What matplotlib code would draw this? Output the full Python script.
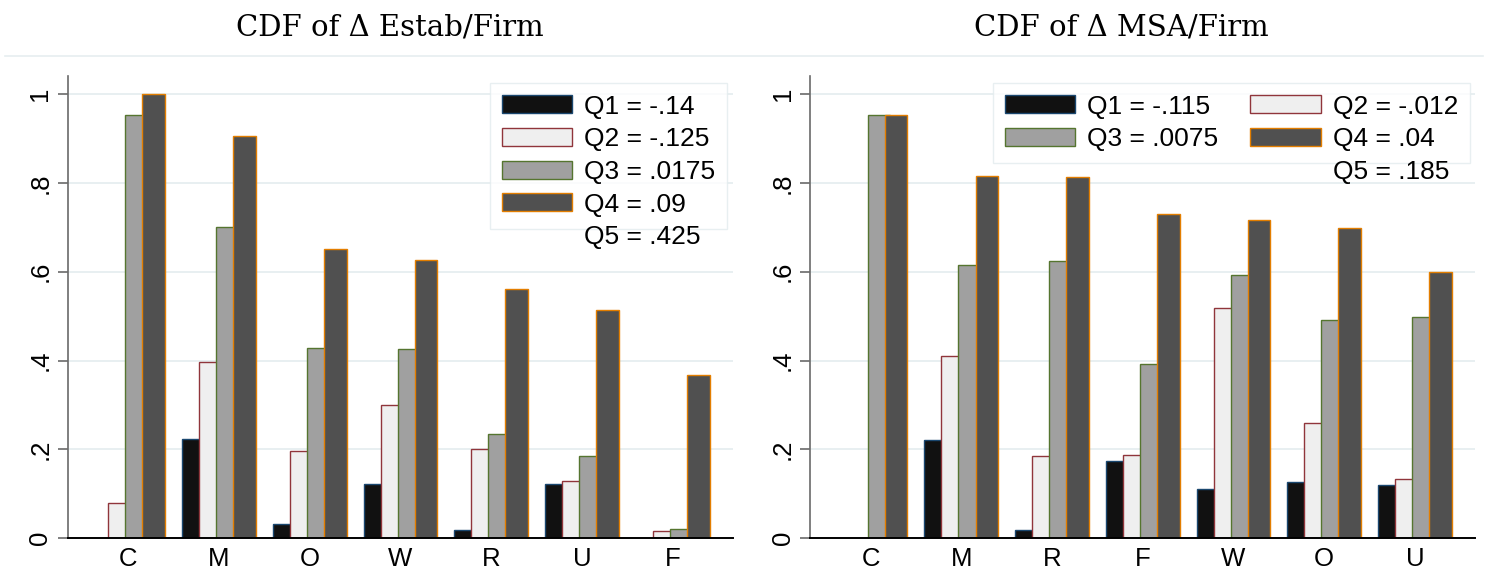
import matplotlib
matplotlib.use("Agg")
import matplotlib.pyplot as plt
from matplotlib.patches import Patch
from matplotlib.lines import Line2D
import numpy as np

# ---- data -------------------------------------------------------------
estab_categories = ["C", "M", "O", "W", "R", "U", "F"]
estab_q1 = [0.000, 0.224, 0.032, 0.122, 0.019, 0.122, 0.000]
estab_q2 = [0.080, 0.396, 0.197, 0.301, 0.202, 0.128, 0.016]
estab_q3 = [0.953, 0.701, 0.428, 0.426, 0.235, 0.185, 0.021]
estab_q4 = [1.000, 0.906, 0.650, 0.627, 0.562, 0.514, 0.368]
estab_cutoffs = ["-.14", "-.125", ".0175", ".09", ".425"]

msa_categories = ["C", "M", "R", "F", "W", "O", "U"]
msa_q1 = [0.000, 0.221, 0.019, 0.175, 0.112, 0.127, 0.119]
msa_q2 = [0.000, 0.410, 0.185, 0.188, 0.518, 0.260, 0.133]
msa_q3 = [0.953, 0.614, 0.623, 0.392, 0.592, 0.491, 0.497]
msa_q4 = [0.953, 0.815, 0.812, 0.730, 0.717, 0.698, 0.599]
msa_cutoffs = ["-.115", "-.012", ".0075", ".04", ".185"]

ytick_values = [0, 0.2, 0.4, 0.6, 0.8, 1.0]
ytick_labels = ["0", ".2", ".4", ".6", ".8", "1"]

# ---- style ------------------------------------------------------------
FILLS = ["#111111", "#efefef", "#a0a0a0", "#505050"]
EDGES = ["#1a476f", "#90353b", "#55752f", "#e37e00"]
GRID = "#e8eff1"
SANS = ["Liberation Sans", "DejaVu Sans"]
FS = 18.5
LEG_FS = 19

W, H = 1488, 571
fig = plt.figure(figsize=(W / 100, H / 100), dpi=100)
fig.patch.set_facecolor("white")


def fx(px):
    return px / W


def fy(py):
    return 1 - py / H


AX_W = 665.3
AX_TOP, AX_BOT = 75.7, 538.3


def draw_panel(left_px, cats, series, cutoffs, ncol, legend_right_px):
    ax = fig.add_axes([fx(left_px), fy(AX_BOT), AX_W / W, (AX_BOT - AX_TOP) / H])
    x = np.arange(len(cats))
    step, width = 0.1875, 0.25
    for i, vals in enumerate(series):
        lw = [1.0 if v > 0 else 0.0 for v in vals]
        ax.bar(x + (i - 1.5) * step, vals, width=width, color=FILLS[i],
               edgecolor=EDGES[i], linewidth=lw, zorder=2 + i)
    ax.set_xlim(-0.668, 6.665)
    ax.set_ylim(0, 1.041)

    ax.set_yticks(ytick_values)
    ax.set_yticklabels(ytick_labels, family=SANS, fontsize=FS)
    for lbl in ax.get_yticklabels():
        lbl.set_rotation(90)
        lbl.set_va("center")
    ax.tick_params(axis="y", length=7, width=1.2, color="#6a6a6a", pad=4,
                   labelcolor="black")
    ax.set_xticks(x)
    ax.set_xticklabels(cats, family=SANS, fontsize=FS)
    ax.tick_params(axis="x", length=0, pad=6, labelcolor="black")

    ax.yaxis.grid(True, color=GRID, linewidth=1.4)
    ax.set_axisbelow(True)
    for s in ("top", "right"):
        ax.spines[s].set_visible(False)
    ax.spines["left"].set_color("#6a6a6a")
    ax.spines["left"].set_linewidth(1.2)
    ax.spines["bottom"].set_color("black")
    ax.spines["bottom"].set_linewidth(1.4)
    ax.spines["bottom"].set_zorder(10)

    handles = [Patch(facecolor=FILLS[i], edgecolor=EDGES[i], linewidth=1.0,
                     label=f"Q{i + 1} = {cutoffs[i]}") for i in range(4)]
    if ncol == 2:
        handles = [handles[0], handles[2], handles[1], handles[3]]
    leg = ax.legend(handles=handles, ncol=ncol, loc="upper right",
                    bbox_to_anchor=(fx(legend_right_px), fy(82.7)),
                    bbox_transform=fig.transFigure, borderaxespad=0,
                    frameon=True, fancybox=False, edgecolor="#e3ebee",
                    prop={"family": SANS, "size": LEG_FS},
                    handlelength=2.68, handleheight=0.67, handletextpad=0.45,
                    labelspacing=0.33, borderpad=0.45, columnspacing=1.2)
    leg.get_frame().set_linewidth(1.0)
    leg.set_zorder(20)
    return ax, leg, cutoffs[4]


panels = [
    draw_panel(67.7, estab_categories, [estab_q1, estab_q2, estab_q3, estab_q4],
               estab_cutoffs, 1, 727.3),
    draw_panel(810.0, msa_categories, [msa_q1, msa_q2, msa_q3, msa_q4],
               msa_cutoffs, 2, 1470.0),
]

# Q5 label sits under the last legend column, outside the frame
fig.canvas.draw()
renderer = fig.canvas.get_renderer()
for ax, leg, q5 in panels:
    texts = leg.get_texts()
    b_last = texts[-1].get_window_extent(renderer)
    b_prev = texts[-2].get_window_extent(renderer)
    gap = (b_prev.y0 + b_prev.y1) / 2 - (b_last.y0 + b_last.y1) / 2
    yc = (b_last.y0 + b_last.y1) / 2 - gap
    fig.text(b_last.x0 / W, yc / H, f"Q5 = {q5}", ha="left", va="center",
             family=SANS, fontsize=LEG_FS, color="black")

# panel titles and separator rule
fig.text(fx(390), fy(28), "CDF of \u0394 Estab/Firm", ha="center", va="center",
         family="DejaVu Serif", fontsize=21)
fig.text(fx(1121.5), fy(28), "CDF of \u0394 MSA/Firm", ha="center", va="center",
         family="DejaVu Serif", fontsize=21)
fig.add_artist(Line2D([fx(5), fx(1483)], [fy(56), fy(56)], color="#e6eef0",
                      linewidth=1.2, transform=fig.transFigure))

fig.savefig("out.png", dpi=100, facecolor="white")
